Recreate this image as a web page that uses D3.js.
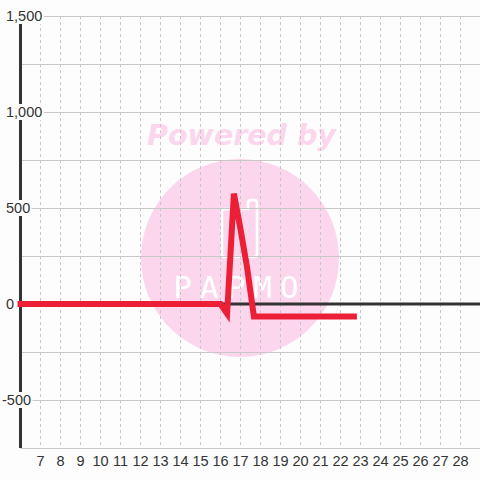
<!doctype html>
<html lang="en">
<head>
<meta charset="utf-8">
<title>Chart</title>
<script src="https://d3js.org/d3.v7.min.js"></script>
<style>
  html, body { margin: 0; padding: 0; background: #fcfdfc; }
  svg { display: block; }
  text { font-family: "Liberation Sans", Arial, sans-serif; }
</style>
</head>
<body>
<svg id="chart" width="480" height="480"></svg>
<script>
// data (days, 1/3 day steps around the spike)
var days   = [6, 7, 8, 9, 10, 11, 12, 13, 14, 15, 16, 16.33, 16.67, 17, 17.33, 17.67, 18, 19, 20, 21, 22, 22.67];
var values = [0, 0, 0, 0, 0, 0, 0, 0, 0, 0, 0, -50, 575, 390, 190, -65, -65, -65, -65, -65, -65, -65];

var xTicks = [7, 8, 9, 10, 11, 12, 13, 14, 15, 16, 17, 18, 19, 20, 21, 22, 23, 24, 25, 26, 27, 28];
var yGrid = [-750, -500, -250, 0, 250, 500, 750, 1000, 1250, 1500];
var yLabels = [-500, 0, 500, 1000, 1500];

var width = 480, height = 480;
var x = d3.scaleLinear().domain([6, 29]).range([20.5, 480.5]);
var y = d3.scaleLinear().domain([-750, 1500]).range([448, 16]);

var svg = d3.select("#chart");
var pink = "#fcd6ec";

// watermark
var wm = svg.append("g");
wm.append("text")
  .attr("x", 241.5).attr("y", 145)
  .attr("text-anchor", "middle")
  .style("font-family", "DejaVu Sans")
  .style("font-weight", "bold")
  .style("font-style", "italic")
  .style("font-size", "28.5px")
  .attr("fill", pink)
  .text("Powered by");
wm.append("circle").attr("cx", 240).attr("cy", 258).attr("r", 99).attr("fill", pink);
wm.append("path")
  .attr("d", "M225,209 L248,209 L248,203 Q248,200 251,200 L254,200 Q257,200 257,203 L257,254 Q257,257 254,257 L225,257 Q222,257 222,254 L222,212 Q222,209 225,209 Z")
  .attr("fill", "none").attr("stroke", "#fff").attr("stroke-width", 2.5);
wm.append("text")
  .attr("x", 240).attr("y", 298)
  .attr("text-anchor", "middle")
  .style("font-family", "DejaVu Sans Mono")
  .style("font-size", "31px")
  .style("letter-spacing", "8px")
  .attr("fill", "#fff")
  .text("PAPMO");

// grid
svg.append("g").selectAll("line")
  .data(xTicks).enter().append("line")
  .attr("x1", d => x(d)).attr("x2", d => x(d))
  .attr("y1", y(1500)).attr("y2", y(-750))
  .attr("stroke", "#c6c6c6").attr("stroke-width", 1)
  .attr("stroke-dasharray", "3,3");

svg.append("g").selectAll("line")
  .data(yGrid).enter().append("line")
  .attr("x1", x(6)).attr("x2", width)
  .attr("y1", d => Math.round(y(d)) + 0.5).attr("y2", d => Math.round(y(d)) + 0.5)
  .attr("stroke", "#c8c8c8").attr("stroke-width", 1.2);

// axes
svg.append("line")
  .attr("x1", x(6)).attr("x2", x(6))
  .attr("y1", y(1500)).attr("y2", y(-750))
  .attr("stroke", "#333").attr("stroke-width", 3);
svg.append("line")
  .attr("x1", x(6)).attr("x2", width)
  .attr("y1", y(0)).attr("y2", y(0))
  .attr("stroke", "#333").attr("stroke-width", 3);

// y labels with background boxes
var fmt = d3.formatLocale({ decimal: ".", thousands: ",", grouping: [3], currency: ["", ""], minus: "-" }).format(",");
var yl = svg.append("g").selectAll("g").data(yLabels).enter().append("g")
  .attr("transform", d => "translate(0," + y(d) + ")");
yl.append("text")
  .attr("x", d => d < 0 ? 2 : 6)
  .attr("dy", "0.35em")
  .attr("fill", "#333")
  .style("font-size", "14.5px")
  .text(d => fmt(d))
  .each(function() {
    var b = this.getBBox();
    d3.select(this.parentNode).insert("rect", "text")
      .attr("x", 0).attr("y", -8)
      .attr("width", b.x + b.width + 1.5).attr("height", 16)
      .attr("fill", "#fcfdfc");
  });

// x labels
svg.append("g").selectAll("text")
  .data(xTicks).enter().append("text")
  .attr("x", d => x(d)).attr("y", 466)
  .attr("text-anchor", "middle")
  .attr("fill", "#333")
  .style("font-size", "14.5px")
  .text(d => d);

// series line
var line = d3.line()
  .x((d, i) => x(days[i]))
  .y(d => y(d));

svg.append("path")
  .datum(values)
  .attr("d", line)
  .attr("fill", "none")
  .attr("stroke", "#ed1f36")
  .attr("stroke-width", 6)
  .attr("stroke-linecap", "square")
  .attr("stroke-linejoin", "miter");
</script>
</body>
</html>
